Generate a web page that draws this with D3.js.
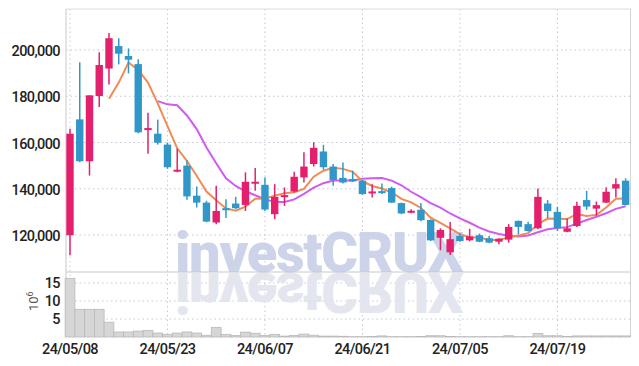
<!DOCTYPE html>
<html>
<head>
<meta charset="utf-8">
<script src="https://cdn.jsdelivr.net/npm/d3@7"></script>
<style>
  body { margin: 0; background: #fff; }
  svg { display: block; }
  .tick-label { font-family: Roboto, sans-serif; font-weight: 500; letter-spacing: -0.6px; fill: #222; }
  .wm { font-family: Roboto, "DejaVu Sans", sans-serif; font-weight: 900; font-size: 56px; letter-spacing: -1.3px; }
</style>
</head>
<body>
<svg id="chart" width="639" height="366"></svg>
<script>
const dates = [
    "24/05/08","24/05/09","24/05/10","24/05/13","24/05/14","24/05/16","24/05/17","24/05/20","24/05/21","24/05/22",
    "24/05/23","24/05/24","24/05/27","24/05/28","24/05/29","24/05/30","24/05/31","24/06/03","24/06/04","24/06/05",
    "24/06/07","24/06/10","24/06/11","24/06/12","24/06/13","24/06/14","24/06/17","24/06/18","24/06/19","24/06/20",
    "24/06/21","24/06/24","24/06/25","24/06/26","24/06/27","24/06/28","24/07/01","24/07/02","24/07/03","24/07/04",
    "24/07/05","24/07/08","24/07/09","24/07/10","24/07/11","24/07/12","24/07/15","24/07/16","24/07/17","24/07/18",
    "24/07/19","24/07/22","24/07/23","24/07/24","24/07/25","24/07/26","24/07/29","24/07/30"
];

const opens = [
    119900,170000,151900,180100,192000,201700,197400,193900,165600,163800,
    159100,147600,150000,137000,134000,125400,131600,133600,133000,142400,
    141700,129000,136600,138800,144900,150700,156100,149600,144700,144200,
    143500,138200,138700,140300,133800,129900,130900,126500,118800,112500,
    119600,117700,119900,118600,117100,118000,126100,124700,122900,133600,
    130000,121400,123900,135100,131400,134000,140100,143500
];
const highs = [
    166000,194700,180400,199000,207300,205100,200700,196000,172900,169900,
    160000,157300,152200,141000,134800,141300,135500,136500,147100,149000,
    144900,142000,140600,147300,155800,160100,159000,150700,151300,147800,
    143800,142000,142300,140900,134000,131100,133800,126800,122900,125600,
    120600,122700,120600,119600,118600,124700,126300,125700,140100,135100,
    132200,127100,134400,139100,134500,140600,144500,144500
];
const lows = [
    111200,151500,145700,175400,185100,193800,189900,164000,155100,159100,
    148600,147100,135200,131900,125500,124700,127300,131200,130400,139100,
    130400,126800,132600,138400,142700,149600,148300,141300,142300,142900,
    137400,136200,137700,133800,129000,129400,126000,117400,113400,111300,
    117100,117300,116900,116400,116000,116700,120300,121500,122500,127300,
    121700,121200,123500,130900,128300,133800,136200,132800
];
const closes = [
    163800,151900,180400,193500,205100,198400,195800,164400,166000,159900,
    149300,148000,136700,134000,125800,130400,130700,131600,143000,142800,
    131000,136500,137000,145200,149600,157700,149300,143800,142700,143200,
    137700,138600,138400,134000,129300,130200,126400,117700,122200,118200,
    117400,119400,117100,116700,118400,123500,123500,121700,136500,130400,
    122900,122900,132600,132300,132900,138700,142000,133000
];
// volume in shares
const volumes = [
    16300000,7700000,7700000,7700000,4100000,1400000,1400000,1650000,1850000,1100000,
    750000,1100000,1400000,1100000,500000,2700000,750000,400000,1350000,1050000,
    450000,750000,250000,450000,800000,500000,250000,250000,200000,100000,
    100000,150000,300000,100000,100000,100000,150000,350000,350000,150000,
    100000,100000,100000,100000,100000,350000,100000,100000,1000000,350000,
    350000,150000,300000,300000,300000,300000,300000,300000
];
// moving averages (orange: short, purple: long)
const maShort = [
    null,null,null,null,178900,185900,194600,191400,185900,176900,
    167100,157500,152000,145600,138800,135000,131500,130500,132300,135700,
    135800,137000,138100,138500,139900,145200,147800,149100,148600,147300,
    143300,141200,140100,138400,135600,134100,131700,127500,125200,122900,
    120400,119000,118900,117800,117800,119000,119800,120800,124700,127100,
    127000,126900,129100,128200,128700,131900,135700,135800
];
const maLong = [
    null,null,null,null,null,null,null,null,null,177900,
    176500,176100,171700,165800,157800,151000,144500,141200,138900,137200,
    135400,134300,134300,135400,137800,140500,142400,143600,143600,143600,
    144300,144500,144600,143500,141500,138700,136400,133800,131800,129300,
    127200,125300,123200,121500,120400,119700,119400,119800,121200,122500,
    123000,123400,124900,126500,127900,129400,131300,132400
];

const priceTicks = [120000, 140000, 160000, 180000, 200000];
const volumeTicks = [5000000, 10000000, 15000000];
const dateTickIndex = [0, 10, 20, 30, 40, 50];

const upColor = "#e4206c";
const downColor = "#3197c9";

const svg = d3.select("#chart");

const left = 66, right = 630.5;
const priceTop = 9, priceBottom = 272;
const volTop = 272, volBottom = 337;

const x = d3.scaleLinear().domain([-0.41, 57.5]).range([left, right]);
const step = x(1) - x(0);

const yPrice = d3.scaleLinear().domain([104000, 217730]).range([priceBottom, priceTop]);
const yVol = d3.scaleLinear().domain([0, 18060000]).range([volBottom, volTop]);

// grid
const grid = svg.append("g").attr("stroke", "#c2c8da").attr("stroke-dasharray", "1.5,3").attr("stroke-width", 1);
grid.selectAll("line.hp").data(priceTicks).enter().append("line")
    .attr("x1", left).attr("x2", right)
    .attr("y1", d => yPrice(d)).attr("y2", d => yPrice(d));
grid.selectAll("line.hv").data(volumeTicks).enter().append("line")
    .attr("x1", left).attr("x2", right)
    .attr("y1", d => yVol(d)).attr("y2", d => yVol(d));
grid.selectAll("line.vd").data(dateTickIndex).enter().append("line")
    .attr("x1", d => x(d)).attr("x2", d => x(d))
    .attr("y1", priceTop).attr("y2", volBottom);

// watermark and its reflection
const wm = svg.append("g");
wm.append("text").attr("class", "wm").attr("x", 175).attr("y", 272)
    .attr("fill", "#c8cfe6").attr("opacity", 0.9).text("investCRUX");
wm.append("text").attr("class", "wm").attr("x", 175).attr("y", -273).attr("transform", "scale(1,-1)")
    .attr("fill", "#e2e4ee").attr("opacity", 0.9).text("investCRUX");

// frame
const frame = svg.append("g").attr("fill", "none");
frame.append("line").attr("x1", left).attr("x2", right).attr("y1", priceTop).attr("y2", priceTop).attr("stroke", "#dcdcdc");
frame.append("line").attr("x1", right).attr("x2", right).attr("y1", priceTop).attr("y2", volBottom).attr("stroke", "#d4d4d4");
frame.append("line").attr("x1", left).attr("x2", right).attr("y1", priceBottom).attr("y2", priceBottom).attr("stroke", "#c8c8c8");
frame.append("line").attr("x1", left).attr("x2", left).attr("y1", priceTop).attr("y2", volBottom).attr("stroke", "#c8c8c8");

// volume bars
svg.append("g").selectAll("rect").data(volumes).enter().append("rect")
    .attr("x", (d, i) => x(i) - step / 2)
    .attr("width", step)
    .attr("y", d => yVol(d))
    .attr("height", d => volBottom - yVol(d))
    .attr("fill", "#d6d6d6")
    .attr("stroke", "#b9b9b9")
    .attr("stroke-width", 0.8);

// moving averages
const line = d3.line().defined(d => d != null).x((d, i) => x(i)).y(d => yPrice(d));
svg.append("path").datum(maLong).attr("d", line).attr("fill", "none")
    .attr("stroke", "#cf5cef").attr("stroke-width", 2);
svg.append("path").datum(maShort).attr("d", line).attr("fill", "none")
    .attr("stroke", "#ef8c55").attr("stroke-width", 2);

// candles
const bodyW = 7.4;
const candles = svg.append("g").selectAll("g").data(dates).enter().append("g")
    .attr("fill", (d, i) => closes[i] >= opens[i] ? upColor : downColor)
    .attr("stroke", (d, i) => closes[i] >= opens[i] ? upColor : downColor);
candles.append("line")
    .attr("x1", (d, i) => x(i)).attr("x2", (d, i) => x(i))
    .attr("y1", (d, i) => yPrice(highs[i])).attr("y2", (d, i) => yPrice(lows[i]))
    .attr("stroke-width", 1.5);
candles.append("rect")
    .attr("stroke", "none")
    .attr("x", (d, i) => x(i) - bodyW / 2)
    .attr("width", bodyW)
    .attr("y", (d, i) => {
        const top = yPrice(Math.max(opens[i], closes[i]));
        const h = Math.abs(yPrice(opens[i]) - yPrice(closes[i]));
        return h < 2 ? top - (2 - h) / 2 : top;
    })
    .attr("height", (d, i) => Math.max(2, Math.abs(yPrice(opens[i]) - yPrice(closes[i]))));

// axes labels
const fmt = d3.format(",");
svg.append("g").selectAll("text").data(priceTicks).enter().append("text")
    .attr("class", "tick-label")
    .attr("x", 60).attr("y", d => yPrice(d) + 6)
    .attr("text-anchor", "end").attr("font-size", 14.5)
    .text(d => fmt(d));
svg.append("g").selectAll("text").data(volumeTicks).enter().append("text")
    .attr("class", "tick-label")
    .attr("x", 60).attr("y", d => yVol(d) + 5)
    .attr("text-anchor", "end").attr("font-size", 14.5)
    .text(d => d / 1e6);
svg.append("g").selectAll("text").data(dateTickIndex).enter().append("text")
    .attr("class", "tick-label")
    .attr("x", d => x(d)).attr("y", 354)
    .attr("text-anchor", "middle").attr("font-size", 14.5)
    .text(d => dates[d]);

const unit = svg.append("text")
    .attr("transform", "translate(38,311) rotate(-90)")
    .attr("font-family", "Roboto, sans-serif").attr("font-size", 13).attr("fill", "#555");
unit.append("tspan").text("10");
unit.append("tspan").attr("dy", -5).attr("font-size", 9).text("6");
</script>
</body>
</html>
